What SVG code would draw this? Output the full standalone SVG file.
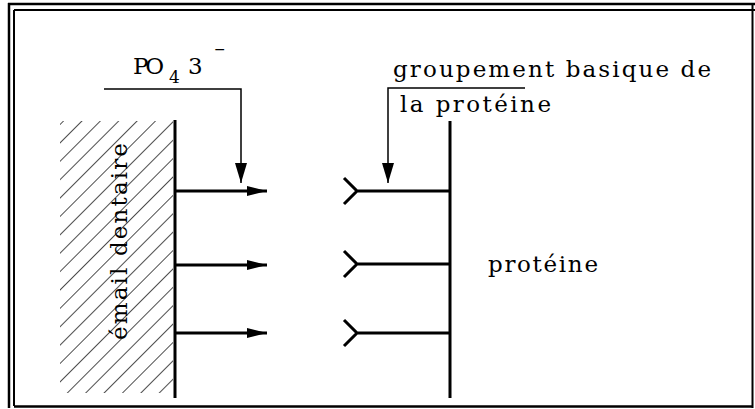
<svg xmlns="http://www.w3.org/2000/svg" width="755" height="409" viewBox="0 0 755 409">
<style>
  text { font-family: "DejaVu Serif", "Liberation Serif", serif; fill: #000; }
  .lbl { font-size: 23px; }
  .thick { stroke: #000; stroke-width: 3; fill: none; }
  .thin { stroke: #000; stroke-width: 1.5; fill: none; }
  .frame { stroke: #000; fill: none; }
</style>
<defs>
  <pattern id="hatch" patternUnits="userSpaceOnUse" width="13" height="13" patternTransform="rotate(45)">
    <line x1="0" y1="0" x2="0" y2="13" stroke="#000" stroke-width="1.4"/>
  </pattern>
  <marker id="ah" viewBox="0 0 20 10" refX="20" refY="5" markerWidth="20" markerHeight="10" markerUnits="userSpaceOnUse" orient="auto">
    <path d="M0,0 L20,5 L0,10 Z" fill="#000"/>
  </marker>
  <marker id="ahs" viewBox="0 0 20 12" refX="20" refY="6" markerWidth="20" markerHeight="12" markerUnits="userSpaceOnUse" orient="auto">
    <path d="M0,0 L20,6 L0,12 Z" fill="#000"/>
  </marker>
</defs>
<rect width="755" height="409" fill="#fff"/>
<g id="frame">
  <line class="frame" x1="8" y1="4" x2="755" y2="4" stroke-width="2.5"/>
  <line class="frame" x1="9" y1="3" x2="9" y2="408" stroke-width="2.5"/>
  <line class="frame" x1="14" y1="10" x2="755" y2="10" stroke-width="2"/>
  <line class="frame" x1="14" y1="10" x2="14" y2="406" stroke-width="2"/>
  <line class="frame" x1="14" y1="406.5" x2="753" y2="406.5" stroke-width="2.5"/>
  <line class="frame" x1="752.5" y1="3" x2="752.5" y2="408" stroke-width="2"/>
</g>
<g id="email">
  <rect x="60" y="121" width="113" height="272" fill="url(#hatch)"/>
  <line class="thick" x1="175" y1="120" x2="175" y2="398"/>
  <text class="lbl" transform="translate(127,340) rotate(-90)" textLength="197" lengthAdjust="spacing">émail dentaire</text>
</g>
<g id="proteine">
  <line class="thick" x1="450" y1="121" x2="450" y2="398"/>
  <path class="thick" d="M357,191 H450 M344,178 L357,191 L344,204"/>
  <path class="thick" d="M357,264 H450 M344,251 L357,264 L344,277"/>
  <path class="thick" d="M357,333 H450 M344,320 L357,333 L344,346"/>
  <text class="lbl" x="488" y="272" textLength="110" lengthAdjust="spacing">protéine</text>
</g>
<g id="po4">
  <text class="lbl" x="133" y="74" textLength="31" lengthAdjust="spacing">PO</text>
  <text x="169" y="83" font-size="17">4</text>
  <text class="lbl" x="188" y="74">3</text>
  <text x="214" y="54" font-size="14">−</text>
</g>
<g id="groupement">
  <text class="lbl" x="393" y="77" textLength="318" lengthAdjust="spacing">groupement basique de</text>
  <text class="lbl" x="400" y="112" textLength="151" lengthAdjust="spacing">la protéine</text>
</g>
<g id="connectors">
  <line class="thick" x1="176" y1="191" x2="267" y2="191" marker-end="url(#ah)"/>
  <line class="thick" x1="176" y1="265" x2="267" y2="265" marker-end="url(#ah)"/>
  <line class="thick" x1="176" y1="333" x2="267" y2="333" marker-end="url(#ah)"/>
  <path class="thin" d="M104,89 H241 V183" marker-end="url(#ahs)"/>
  <path class="thin" d="M525,88 H388 V183" marker-end="url(#ahs)"/>
</g>
</svg>
